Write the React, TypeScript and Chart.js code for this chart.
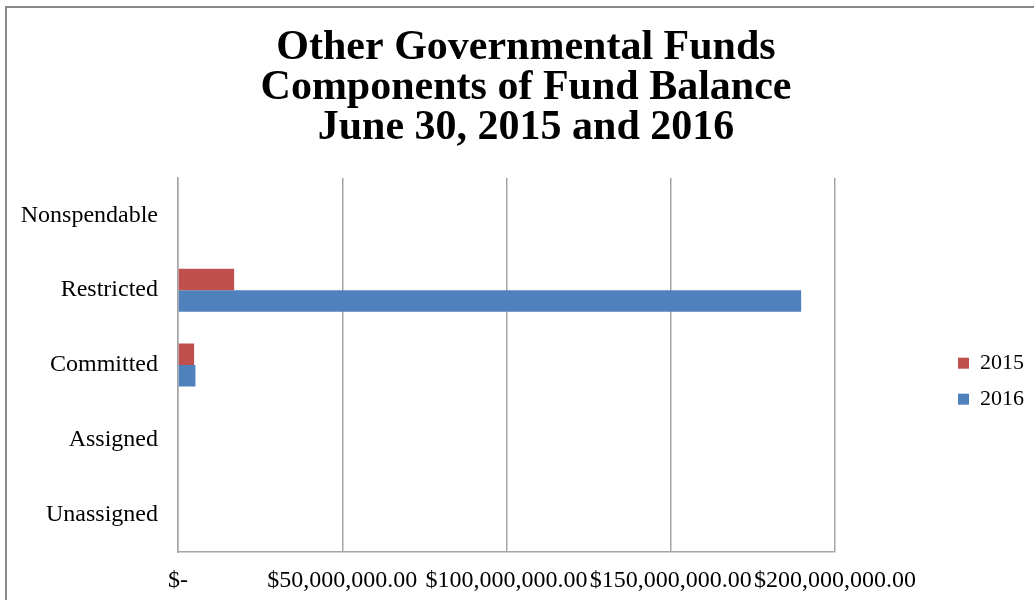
import React, { useEffect, useRef } from 'react';
import { Chart, registerables } from 'chart.js';

Chart.register(...registerables);

const categories = ['Nonspendable', 'Restricted', 'Committed', 'Assigned', 'Unassigned'];
const seriesLabels = ['2015', '2016'];
const values2015 = [0, 17100000, 4900000, 0, 0];
const values2016 = [0, 189700000, 5300000, 0, 0];
const tickValues = [0, 50000000, 100000000, 150000000, 200000000];
const tickLabels = ['$-', '$50,000,000.00', '$100,000,000.00', '$150,000,000.00', '$200,000,000.00'];
const titleLines = ['Other Governmental Funds', 'Components of Fund Balance', 'June 30, 2015 and 2016'];

const SERIF = "'Liberation Serif', 'Times New Roman', serif";
const GRID = '#a6a6a6';

export default function App() {
  const canvasRef = useRef<HTMLCanvasElement | null>(null);

  useEffect(() => {
    if (!canvasRef.current) return;
    const chart = new Chart(canvasRef.current, {
      type: 'bar',
      data: {
        labels: categories,
        datasets: [
          {
            label: seriesLabels[0],
            data: values2015,
            backgroundColor: '#C0504D',
            borderWidth: 0,
          },
          {
            label: seriesLabels[1],
            data: values2016,
            backgroundColor: '#4F81BD',
            borderWidth: 0,
          },
        ],
      },
      options: {
        indexAxis: 'y',
        responsive: true,
        maintainAspectRatio: false,
        animation: false,
        layout: { padding: { top: 10, left: 18, right: 0, bottom: 0 } },
        datasets: { bar: { categoryPercentage: 0.575, barPercentage: 1 } },
        plugins: {
          title: {
            display: true,
            text: titleLines,
            color: '#000',
            font: { family: SERIF, size: 42, weight: 'bold', lineHeight: 40 / 42 },
            padding: { top: 18, bottom: 30 },
          },
          legend: {
            position: 'right',
            fullSize: false,
            title: { display: true, text: ' ', font: { family: SERIF, size: 22 }, padding: { top: 6, bottom: 0 } },
            labels: {
              boxWidth: 11,
              boxHeight: 11,
              padding: 14,
              color: '#000',
              font: { family: SERIF, size: 22 },
            },
          },
          tooltip: { enabled: false },
        },
        scales: {
          x: {
            type: 'linear',
            min: 0,
            max: 200000000,
            afterBuildTicks: (s: any) => {
              s.ticks = tickValues.map((v) => ({ value: v }));
            },
            afterFit: (s: any) => {
              s.height = 48;
            },
            ticks: {
              autoSkip: false,
              maxRotation: 0,
              minRotation: 0,
              padding: 14,
              color: '#000',
              font: { family: SERIF, size: 24 },
              callback: (_v: any, i: number) => tickLabels[i],
            },
            grid: { color: GRID, lineWidth: 1.5, drawTicks: false },
            border: { color: GRID, width: 1.5 },
          },
          y: {
            type: 'category',
            afterFit: (s: any) => {
              s.width = 160;
            },
            ticks: { padding: 20, color: '#000', font: { family: SERIF, size: 24 } },
            grid: { display: false, drawTicks: false },
            border: { color: GRID, width: 1.5 },
          },
          pad: {
            axis: 'y',
            type: 'linear',
            position: 'right',
            display: true,
            afterFit: (s: any) => {
              s.width = 109;
            },
            ticks: { display: false },
            grid: { display: false, drawTicks: false },
            border: { display: false },
          },
        },
      } as any,
    });
    return () => chart.destroy();
  }, []);

  return (
    <div style={{ position: 'fixed', left: 0, top: 0, width: 1034, height: 600, overflow: 'hidden', background: '#fff' }}>
      <canvas ref={canvasRef} style={{ width: '100%', height: '100%' }} />
      <div
        style={{
          position: 'absolute',
          left: 5,
          top: 6,
          width: 1029,
          height: 594,
          boxSizing: 'border-box',
          borderLeft: '2px solid #888',
          borderTop: '2px solid #888',
          pointerEvents: 'none',
        }}
      />
    </div>
  );
}
